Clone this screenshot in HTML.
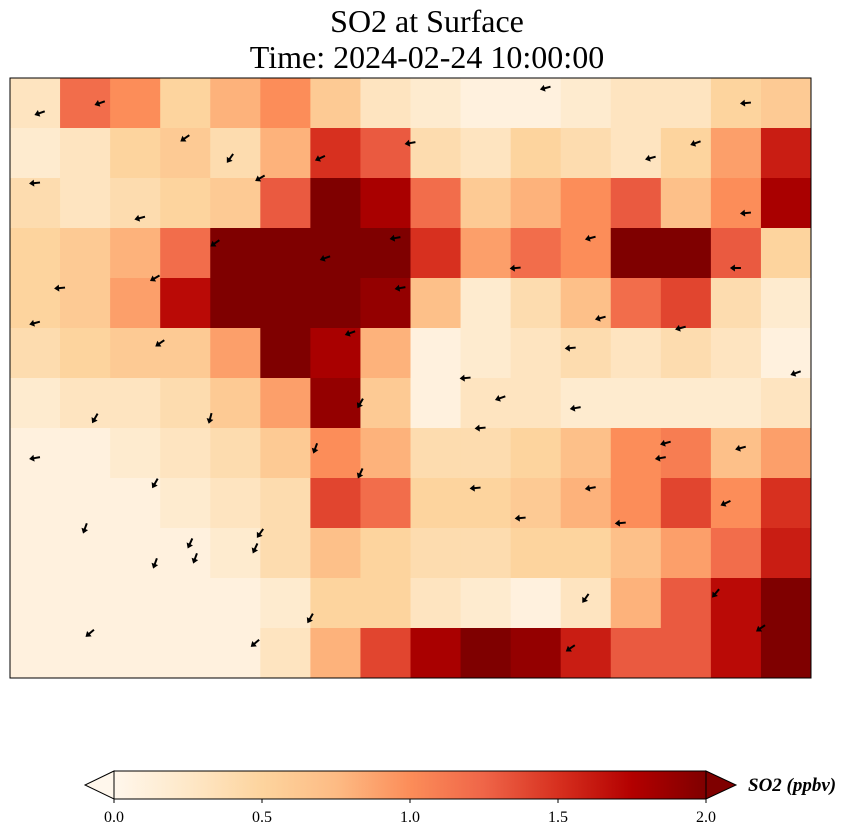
<!DOCTYPE html>
<html><head><meta charset="utf-8"><style>
body{margin:0;background:#fff;}
svg{display:block;font-family:"Liberation Serif",serif;}
</style></head><body>
<svg id="chart" width="854" height="839" viewBox="0 0 854 839" xmlns="http://www.w3.org/2000/svg">
<defs>
<linearGradient id="cmap" x1="0" x2="1" y1="0" y2="0">
<stop offset="0" stop-color="#fff7ec"/><stop offset="0.125" stop-color="#fee8c8"/><stop offset="0.25" stop-color="#fdd49e"/><stop offset="0.375" stop-color="#fdbb84"/><stop offset="0.5" stop-color="#fc8d59"/><stop offset="0.625" stop-color="#ef6548"/><stop offset="0.75" stop-color="#d7301f"/><stop offset="0.875" stop-color="#b30000"/><stop offset="1" stop-color="#7f0000"/>
</linearGradient>
<clipPath id="mapclip"><rect x="10" y="78" width="801" height="600"/></clipPath>
</defs>
<text x="427" y="32" text-anchor="middle" font-size="32">SO2 at Surface</text>
<text x="427" y="68" text-anchor="middle" font-size="32">Time: 2024-02-24 10:00:00</text>
<g id="cells" clip-path="url(#mapclip)"></g>
<g id="arrows" clip-path="url(#mapclip)"></g>
<rect x="10" y="78" width="801" height="600" fill="none" stroke="#000" stroke-width="1"/>
<g>
<rect x="114" y="771" width="592" height="28" fill="url(#cmap)"/>
<polygon points="114,771 85,785 114,799" fill="#fff7ec" stroke="#000" stroke-width="1"/>
<polygon points="706,771 736,785 706,799" fill="#7f0000" stroke="#000" stroke-width="1"/>
<path d="M114,771 H706 M114,799 H706" stroke="#000" stroke-width="1"/>
<g id="cbticks"></g>
<text x="748" y="791" font-size="19" font-weight="bold" font-style="italic">SO2 (ppbv)</text>
</g>
</svg>
<script>
const cbTicks=[0.0,0.5,1.0,1.5,2.0];
const cbTickLabels=["0.0","0.5","1.0","1.5","2.0"];
const so2Grid=[
[0.3,1.2,1.0,0.5,0.8,1.0,0.6,0.3,0.2,0.1,0.1,0.2,0.3,0.3,0.5,0.6],
[0.2,0.3,0.5,0.6,0.4,0.8,1.5,1.3,0.4,0.3,0.5,0.4,0.3,0.5,0.9,1.6],
[0.4,0.3,0.4,0.5,0.6,1.3,2.0,1.8,1.2,0.6,0.8,1.0,1.3,0.7,1.0,1.8],
[0.5,0.6,0.8,1.2,2.0,2.0,2.0,2.0,1.5,0.9,1.2,1.0,2.0,2.0,1.3,0.5],
[0.5,0.6,0.9,1.7,2.0,2.0,2.0,1.9,0.7,0.2,0.4,0.7,1.2,1.4,0.4,0.2],
[0.4,0.5,0.6,0.6,0.9,2.0,1.8,0.8,0.1,0.2,0.3,0.4,0.3,0.4,0.3,0.1],
[0.2,0.3,0.3,0.4,0.6,0.9,1.9,0.6,0.1,0.3,0.3,0.2,0.2,0.2,0.2,0.3],
[0.1,0.1,0.2,0.3,0.4,0.6,1.0,0.8,0.4,0.4,0.5,0.7,1.0,1.1,0.7,0.9],
[0.1,0.1,0.1,0.2,0.3,0.4,1.4,1.2,0.5,0.5,0.6,0.8,1.0,1.4,1.0,1.5],
[0.1,0.1,0.1,0.1,0.2,0.4,0.7,0.5,0.4,0.4,0.5,0.5,0.7,0.9,1.2,1.6],
[0.1,0.1,0.1,0.1,0.1,0.2,0.5,0.5,0.3,0.2,0.1,0.3,0.8,1.3,1.7,2.0],
[0.1,0.1,0.1,0.1,0.1,0.3,0.8,1.4,1.8,2.0,1.9,1.6,1.3,1.3,1.7,2.0]
];
const windX=[0.6,1.8,3.5,4.4,5.0,6.2,8.0,10.7,12.8,13.7,14.7,0.5,2.6,4.1,6.3,7.7,10.1,11.6,14.7,1.0,2.9,7.8,11.8,14.5,0.5,3.0,6.8,9.1,11.2,13.4,15.7,1.7,4.0,7.0,9.4,11.3,13.1,14.6,0.5,2.9,6.1,9.8,13.0,3.6,4.9,7.0,9.3,11.6,14.3,1.5,2.9,5.0,10.2,12.2,3.7,6.0,11.5,14.1,1.6,4.9,11.2,15.0];
const windY=[0.7,0.5,1.2,1.6,2.0,1.6,1.3,0.2,1.6,1.3,0.5,2.1,2.8,3.3,3.6,3.2,3.8,3.2,2.7,4.2,4.0,4.2,4.8,3.8,4.9,5.3,5.1,6.0,5.4,5.0,5.9,6.8,6.8,6.5,7.0,6.6,7.3,7.4,7.6,8.1,7.4,6.4,7.6,9.3,9.4,7.9,8.2,8.2,8.5,9.0,9.7,9.1,8.8,8.9,9.6,10.8,10.4,10.3,11.1,11.3,11.4,11.0];
const windAngle=[200,200,215,235,210,205,190,195,195,200,185,185,195,215,200,190,185,195,185,185,210,190,195,180,195,215,200,185,185,195,200,240,255,240,185,190,195,195,190,240,250,200,190,245,245,245,185,190,205,250,250,235,185,185,250,240,235,230,220,220,215,215];

const NS="http://www.w3.org/2000/svg";
const X0=10,Y0=78,W=801,H=600,nc=16,nr=12;
const xs=c=>X0+c*W/nc, ys=r=>Y0+r*H/nr;
const stops=[[255,247,236],[254,232,200],[253,212,158],[253,187,132],[252,141,89],[239,101,72],[215,48,31],[179,0,0],[127,0,0]];
function color(v){let t=Math.max(0,Math.min(1,v/2))*8;let i=Math.min(7,Math.floor(t)),f=t-i;const a=stops[i],b=stops[i+1];
return `rgb(${a.map((x,k)=>Math.round(x+(b[k]-x)*f)).join(',')})`;}
const cells=document.getElementById('cells');
so2Grid.forEach((row,r)=>row.forEach((v,c)=>{
 const el=document.createElementNS(NS,'rect');
 
 
 el.setAttribute('x',xs(c));el.setAttribute('y',ys(r));
 el.setAttribute('width',W/nc+0.5);el.setAttribute('height',H/nr+0.5);
 el.setAttribute('fill',color(v));cells.appendChild(el);
}));
const arrows=document.getElementById('arrows');
windX.forEach((wx,i)=>{
 const el=document.createElementNS(NS,'polygon');
 
 
 el.setAttribute('points','-5,-1 1,-1 1,-3.5 6,0 1,3.5 1,1 -5,1');
 el.setAttribute('fill','#000');
 el.setAttribute('transform',`translate(${xs(wx)},${ys(windY[i])}) rotate(${-windAngle[i]})`);
 arrows.appendChild(el);
});
const cb=document.getElementById('cbticks');
const cbx=v=>114+v/2*592;
cbTicks.forEach((v,i)=>{
 const t=document.createElementNS(NS,'line');
 
 
 t.setAttribute('x1',cbx(v));t.setAttribute('x2',cbx(v));t.setAttribute('y1',799);t.setAttribute('y2',803);
 t.setAttribute('stroke','#000');cb.appendChild(t);
 const l=document.createElementNS(NS,'text');
 
 
 l.setAttribute('x',cbx(v));l.setAttribute('y',822);l.setAttribute('text-anchor','middle');l.setAttribute('font-size','16');
 l.textContent=cbTickLabels[i];cb.appendChild(l);
});
</script>
</body></html>
